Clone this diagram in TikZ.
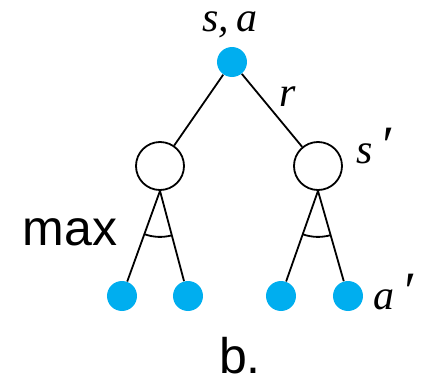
\documentclass[tikz,border=0pt]{standalone}
\usepackage{fontspec}
\setmainfont{Liberation Serif}
\setsansfont{Liberation Sans}
\usetikzlibrary{positioning}
\definecolor{Cyan}{HTML}{00AEEF}
\newcommand{\bigprime}{\,{\fontsize{27}{28}\selectfont ′}}

\begin{document}
\begin{tikzpicture}[x=0.5pt,y=0.5pt,
    leaf/.style={circle,fill=Cyan,minimum size=15pt,inner sep=0pt},
    state/.style={circle,draw,line width=0.9pt,fill=white,minimum size=24pt,inner sep=0pt},
    edge/.style={line width=0.9pt},
    lbl/.style={font=\fontsize{21}{24}\selectfont\itshape,inner sep=0pt},
    sflbl/.style={font=\fontsize{25}{28}\selectfont\sffamily,inner sep=0pt}
  ]
    \useasboundingbox (0,0) rectangle (425,382);
    % root and the two successor states
    \node[leaf] (sa) at (232,320) {};
    \node[state] (sl) at (160,216) {};
    \node[state] (sr) at (318,216) {};
    % actions below each state
    \node[leaf] (a1) at (122,86) {};
    \node[leaf] (a2) at (188,86) {};
    \node[leaf] (a3) at (281,86) {};
    \node[leaf] (a4) at (348,86) {};
    \draw[edge](sa)--(sl);
    \draw[edge](sa)--(sr);
    \draw[edge](sl.south)--(a1);
    \draw[edge](sl.south)--(a2);
    \draw[edge](sr.south)--(a3);
    \draw[edge](sr.south)--(a4);
    \draw[edge](sl.south)++(250.3:46) arc[start angle=250.3,end angle=284.8,radius=46];
    \draw[edge](sr.south)++(250.8:46) arc[start angle=250.8,end angle=285.8,radius=46];
    % labels
    \node[lbl] (lsa) at (230,357) {s,\,a};
    \node[lbl] (lr) at (288,285) {r};
    \node[lbl] (ls) at (374,236) {s\bigprime};
    \node[lbl] (la) at (393,90) {a\bigprime};
    \node[sflbl] (lmax) at (70,150) {max};
    \node[sflbl] (lb) at (240,26) {b.};
\end{tikzpicture}
\end{document}
